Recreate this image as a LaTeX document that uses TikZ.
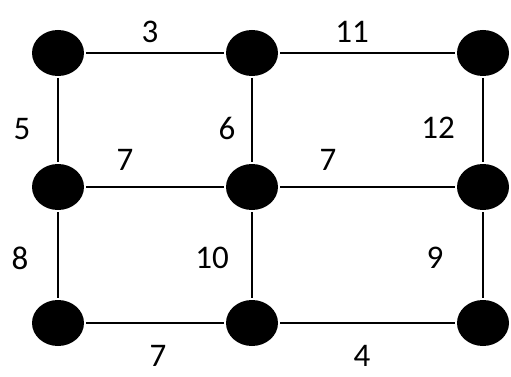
\documentclass[tikz,border=0pt]{standalone}
\usepackage{fontspec}
\setmainfont{Carlito}
\usetikzlibrary{shapes.geometric}

\begin{document}
\begin{tikzpicture}[x=1pt, y=-1pt,
  vertex/.style={ellipse, fill=black, minimum width=52pt, minimum height=46pt, inner sep=0pt, outer sep=2pt},
  edge/.style={line width=1.4pt},
  weight/.style={font=\fontsize{33}{33}\selectfont, inner sep=0pt}
]
\useasboundingbox (0,0) rectangle (511,377);
% vertices
\node[vertex] (a1) at (58,53)  {};
\node[vertex] (b1) at (252,53) {};
\node[vertex] (c1) at (483,53) {};
\node[vertex] (a2) at (58,187) {};
\node[vertex] (b2) at (252,187) {};
\node[vertex] (c2) at (483,187) {};
\node[vertex] (a3) at (58,323) {};
\node[vertex] (b3) at (252,323) {};
\node[vertex] (c3) at (483,323) {};
% edges
\draw[edge] (a1) -- (b1);
\draw[edge] (b1) -- (c1);
\draw[edge] (a2) -- (b2);
\draw[edge] (b2) -- (c2);
\draw[edge] (a3) -- (b3);
\draw[edge] (b3) -- (c3);
\draw[edge] (a1) -- (a2);
\draw[edge] (a2) -- (a3);
\draw[edge] (b1) -- (b2);
\draw[edge] (b2) -- (b3);
\draw[edge] (c1) -- (c2);
\draw[edge] (c2) -- (c3);
% weights
\node[weight] (w3)  at (150,32)  {3};
\node[weight] (w11) at (352,32)  {11};
\node[weight] (w5)  at (22,129)  {5};
\node[weight] (w6)  at (227,128) {6};
\node[weight] (w12) at (438,128) {12};
\node[weight] (w7a) at (125,160) {7};
\node[weight] (w7b) at (328,160) {7};
\node[weight] (w8)  at (20,258)  {8};
\node[weight] (w10) at (212,258) {10};
\node[weight] (w9)  at (435,258) {9};
\node[weight] (w7c) at (158,356) {7};
\node[weight] (w4)  at (362,356) {4};
\end{tikzpicture}
\end{document}
